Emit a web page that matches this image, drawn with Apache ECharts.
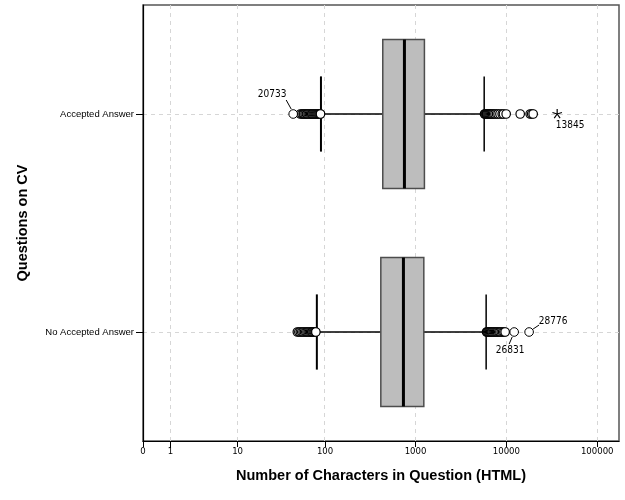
<!DOCTYPE html>
<html>
<head>
<meta charset="utf-8">
<script src="https://cdn.jsdelivr.net/npm/echarts@6/dist/echarts.min.js"></script>
<style>
  html, body { margin: 0; padding: 0; background: #fff; }
  #container { width: 625px; height: 500px; }
</style>
</head>
<body>
<div id="container"></div>
<script>
// groups on the y axis (top to bottom)
var categories = ['Accepted Answer', 'No Accepted Answer'];

// box stats, raw characters: lower whisker, Q1, median, Q3, upper whisker
var lowWhisker = [90, 81];
var q1Vals = [435, 414];
var medianVals = [754, 735];
var q3Vals = [1252, 1233];
var highWhisker = [5700, 5990];

// plain outliers (open circles)
var acceptedOutliers = [53, 55, 57, 58, 60, 62, 63, 65, 67, 69, 71, 72, 74, 76, 78, 80, 82, 84, 86, 88, 89,
    5750, 5850, 5950, 6050, 6150, 6300, 6450, 6600, 6750, 6900, 7050, 7250, 7500, 7800, 8100, 8500, 9000, 9300, 9950,
    14200, 18280, 19000, 19730];
var noAcceptedOutliers = [49, 51, 53, 55, 57, 59, 61, 63, 65, 67, 69, 71, 72, 74, 76, 78, 79,
    6050, 6150, 6250, 6400, 6550, 6700, 6850, 7000, 7200, 7400, 7600, 7800, 8000, 8250, 8500, 8800, 9100, 9400, 9700];

// labelled outliers
var labelCats = ['Accepted Answer', 'Accepted Answer', 'No Accepted Answer', 'No Accepted Answer'];
var labelValues = [44, 36250, 12190, 17800];
var labelIds = ['20733', '13845', '26831', '28776'];
var labelMarks = ['circle', 'star', 'circle', 'circle'];

// x tick labels
var tickValues = [0, 1, 10, 100, 1000, 10000, 100000];

// SPSS style log scale: log10(x + 1)
function t(v) { return Math.log10(v + 1); }

var tickPos = tickValues.map(t);

var boxData = categories.map(function (c, i) {
    return [i, t(lowWhisker[i]), t(q1Vals[i]), t(medianVals[i]), t(q3Vals[i]), t(highWhisker[i])];
});

var outData = [];
acceptedOutliers.forEach(function (v) { outData.push([t(v), categories[0]]); });
noAcceptedOutliers.forEach(function (v) { outData.push([t(v), categories[1]]); });

var labelData = labelValues.map(function (v, i) {
    return [t(v), categories.indexOf(labelCats[i]), i];
});

// where the id text and leader sit, relative to the point
var labelLayout = [
    { line: [-2, -5, -7, -14], text: [-21, -20] },
    { line: null, text: [13, 11] },
    { line: [-2, 5, -5, 12], text: [-4, 18] },
    { line: [4, -3, 10, -7], text: [24, -11] }
];

function renderBox(params, api) {
    var cat = api.value(0);
    var yc = api.coord([0, cat])[1];
    var band = api.size([0, 1])[1];
    var boxH = band * 0.683;
    var capH = band * 0.345;
    var xLo = api.coord([api.value(1), cat])[0];
    var xQ1 = api.coord([api.value(2), cat])[0];
    var xMed = api.coord([api.value(3), cat])[0];
    var xQ3 = api.coord([api.value(4), cat])[0];
    var xHi = api.coord([api.value(5), cat])[0];
    var lineStyle = { stroke: '#000', lineWidth: 1.5 };
    return {
        type: 'group',
        children: [
            { type: 'line', shape: { x1: xLo, y1: yc, x2: xQ1, y2: yc }, style: lineStyle },
            { type: 'line', shape: { x1: xQ3, y1: yc, x2: xHi, y2: yc }, style: lineStyle },
            { type: 'line', shape: { x1: xLo, y1: yc - capH / 2, x2: xLo, y2: yc + capH / 2 }, style: { stroke: '#000', lineWidth: 2 } },
            { type: 'line', shape: { x1: xHi, y1: yc - capH / 2, x2: xHi, y2: yc + capH / 2 }, style: { stroke: '#000', lineWidth: 1.5 } },
            { type: 'rect', shape: { x: xQ1, y: yc - boxH / 2, width: xQ3 - xQ1, height: boxH }, style: { fill: '#bdbdbd', stroke: '#4d4d4d', lineWidth: 1.5 } },
            { type: 'line', shape: { x1: xMed, y1: yc - boxH / 2, x2: xMed, y2: yc + boxH / 2 }, style: { stroke: '#000', lineWidth: 3 } }
        ]
    };
}

function renderLabel(params, api) {
    var p = api.coord([api.value(0), api.value(1)]);
    var idx = api.value(2);
    var lay = labelLayout[idx];
    var kids = [];
    if (labelMarks[idx] === 'circle') {
        kids.push({ type: 'circle', shape: { cx: p[0], cy: p[1], r: 4.3 }, style: { fill: '#fff', stroke: '#000', lineWidth: 1 } });
    } else {
        for (var k = 0; k < 5; k++) {
            var a = -Math.PI / 2 + k * 2 * Math.PI / 5;
            kids.push({ type: 'line', shape: { x1: p[0], y1: p[1], x2: p[0] + 5 * Math.cos(a), y2: p[1] + 5 * Math.sin(a) }, style: { stroke: '#000', lineWidth: 1.2 } });
        }
    }
    if (lay.line) {
        kids.push({ type: 'line', shape: { x1: p[0] + lay.line[0], y1: p[1] + lay.line[1], x2: p[0] + lay.line[2], y2: p[1] + lay.line[3] }, style: { stroke: '#000', lineWidth: 1 } });
    }
    kids.push({
        type: 'text',
        x: p[0] + lay.text[0], y: p[1] + lay.text[1],
        style: { text: labelIds[idx], fill: '#000', font: '10px "DejaVu Sans Condensed", "Liberation Sans", sans-serif', textAlign: 'center', textVerticalAlign: 'middle' }
    });
    return { type: 'group', children: kids };
}

var gridLine = { color: '#d6d6d6', type: [4, 4], width: 1 };

var option = {
    backgroundColor: '#fff',
    animation: false,
    grid: { left: 143, right: 6, top: 5, bottom: 59, show: true, borderColor: '#555', borderWidth: 1.5, backgroundColor: 'transparent' },
    xAxis: {
        type: 'value',
        min: 0,
        max: 5.24,
        name: 'Number of Characters in Question (HTML)',
        nameLocation: 'middle',
        nameGap: 27,
        nameTextStyle: { fontFamily: 'Liberation Sans', fontWeight: 'bold', fontSize: 14.5, color: '#000' },
        axisLine: { show: true, lineStyle: { color: '#000', width: 1.2 } },
        axisTick: { show: true, length: 6, customValues: tickPos, lineStyle: { color: '#000' } },
        axisLabel: {
            customValues: tickPos,
            margin: 6,
            fontFamily: 'DejaVu Sans Condensed',
            fontSize: 9.5,
            color: '#000',
            formatter: function (v) { return String(Math.round(Math.pow(10, v) - 1)); }
        },
        splitLine: { show: false }
    },
    yAxis: {
        type: 'category',
        inverse: true,
        data: categories,
        name: 'Questions on CV',
        nameLocation: 'middle',
        nameGap: 113,
        nameTextStyle: { fontFamily: 'Liberation Sans', fontWeight: 'bold', fontSize: 14.5, color: '#000' },
        axisLine: { show: true, lineStyle: { color: '#000', width: 1.2 } },
        axisTick: { show: true, alignWithLabel: true, length: 7, lineStyle: { color: '#000' } },
        axisLabel: { margin: 9, fontFamily: 'Liberation Sans', fontSize: 9.5, color: '#000' },
        splitLine: { show: false }
    },
    series: [
        {
            type: 'scatter',
            name: 'grid',
            data: [],
            silent: true,
            z: 0,
            markLine: {
                silent: true,
                z: 0,
                symbol: 'none',
                label: { show: false },
                lineStyle: gridLine,
                data: tickPos.slice(1).map(function (p) { return { xAxis: p }; })
                    .concat(categories.map(function (c) { return { yAxis: c }; }))
            }
        },
        {
            type: 'custom',
            name: 'boxes',
            renderItem: renderBox,
            encode: { x: [1, 2, 3, 4, 5], y: 0 },
            data: boxData,
            z: 3
        },
        {
            type: 'scatter',
            name: 'outliers',
            symbol: 'circle',
            symbolSize: 8.5,
            itemStyle: { color: '#fff', borderColor: '#000', borderWidth: 1.2, opacity: 1 },
            data: outData,
            z: 4
        },
        {
            type: 'custom',
            name: 'labelled',
            renderItem: renderLabel,
            encode: { x: 0, y: 1 },
            data: labelData,
            z: 5
        }
    ]
};

var myChart = echarts.init(document.getElementById('container'));
myChart.setOption(option);
</script>
</body>
</html>
